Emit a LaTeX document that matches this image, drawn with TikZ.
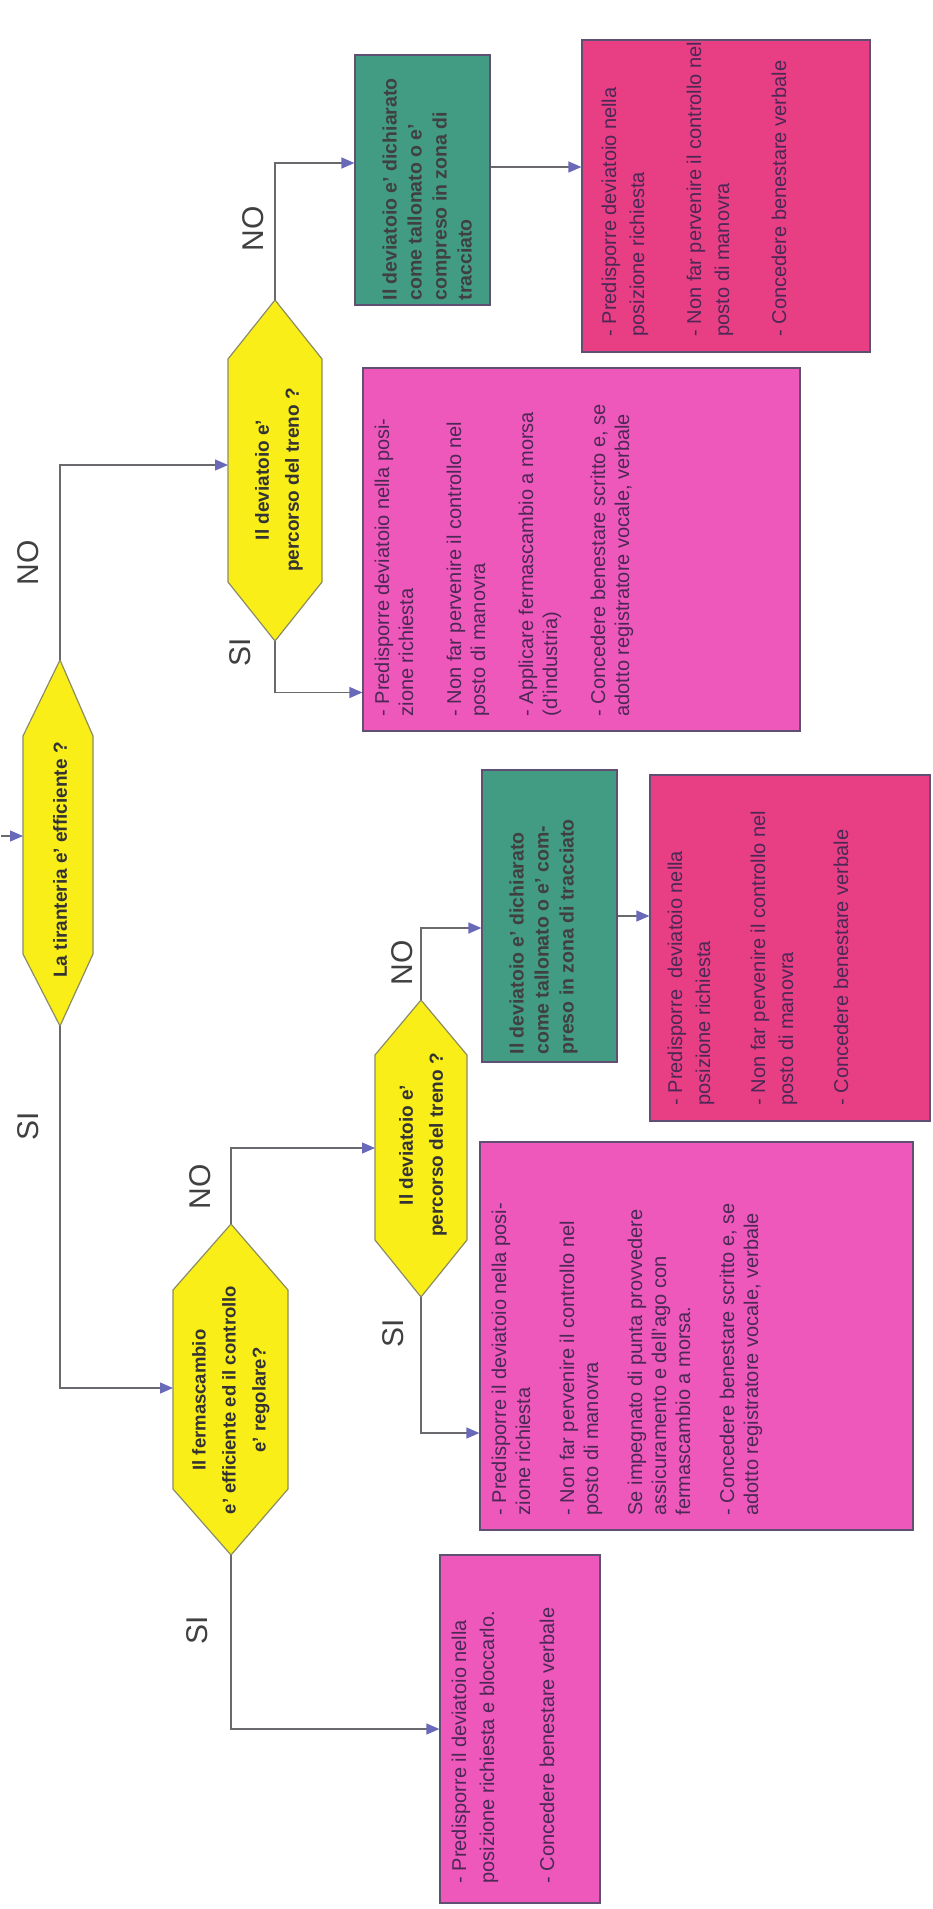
\documentclass[tikz,border=0pt]{standalone}
\usepackage{fontspec}
\setmainfont{Liberation Sans}
\usetikzlibrary{arrows.meta,fit,calc}
\definecolor{hexyellow}{RGB}{250,238,25}
\definecolor{hexborder}{RGB}{140,140,100}
\definecolor{pinkA}{RGB}{238,88,186}
\definecolor{pinkB}{RGB}{232,62,132}
\definecolor{tealbox}{RGB}{66,156,132}
\definecolor{boxborder}{RGB}{95,80,115}
\definecolor{boxtext}{RGB}{75,40,85}
\definecolor{linegray}{RGB}{105,105,110}
\definecolor{arrowblue}{RGB}{105,105,185}
\begin{document}
\begin{tikzpicture}[x=1pt,y=-1pt,
  conn/.style={draw=linegray, line width=1.2pt},
  arr/.style={conn, -{Triangle[length=13pt,width=11pt,fill=arrowblue,color=arrowblue]}},
  hexshape/.style={draw=hexborder, line width=1.2pt, fill=hexyellow, line join=miter},
  hext/.style={rotate=90, align=center, inner sep=0pt, text=black!80, font=\bfseries\fontsize{19}{30}\selectfont},
  boxA/.style={draw=boxborder, line width=1.2pt, fill=pinkA, inner sep=0pt},
  boxB/.style={draw=boxborder, line width=1.2pt, fill=pinkB, inner sep=0pt},
  boxT/.style={draw=boxborder, line width=1.2pt, fill=tealbox, inner sep=0pt},
  ptext/.style={rotate=90, anchor=north west, align=left, inner sep=0pt, text=boxtext, font=\fontsize{20}{28}\selectfont},
  ttext/.style={rotate=90, anchor=north west, align=left, inner sep=0pt, text=black!75, font=\bfseries\fontsize{19.5}{25}\selectfont},
  lbl/.style={rotate=90, inner sep=0pt, text=black!75, font=\fontsize{30}{34}\selectfont}]

\useasboundingbox (0,0) rectangle (933,1909);
\fill[white] (0,0) rectangle (933,1909);

% ---------- decision hexagons ----------
% D0
\coordinate (d0t) at (60,660);
\coordinate (d0b) at (60,1026);
\coordinate (d0w) at (23,836);
\draw[hexshape] (d0t) -- (93,736) -- (93,954) -- (d0b) -- (23,954) -- (23,736) -- cycle;
\node[hext] (d0) at (60,860) {La tiranteria e' efficiente ?};
% D1
\coordinate (d1t) at (275,300);
\coordinate (d1b) at (275,641);
\coordinate (d1w) at (228,465);
\draw[hexshape] (d1t) -- (322,359) -- (322,582) -- (d1b) -- (228,582) -- (228,359) -- cycle;
\node[hext] (d1) at (279,480) {Il deviatoio e'\\percorso del treno ?};
% D3
\coordinate (d3t) at (231,1224);
\coordinate (d3b) at (231,1555);
\coordinate (d3w) at (173,1388);
\draw[hexshape] (d3t) -- (288,1290) -- (288,1489) -- (d3b) -- (173,1489) -- (173,1290) -- cycle;
\node[hext, font=\bfseries\fontsize{18.5}{30}\selectfont] (d3) at (231,1400) {Il fermascambio\\e' efficiente ed il controllo\\e' regolare?};
% D2
\coordinate (d2t) at (421,1000);
\coordinate (d2b) at (421,1297);
\coordinate (d2w) at (375,1148);
\draw[hexshape] (d2t) -- (467,1055) -- (467,1240) -- (d2b) -- (375,1240) -- (375,1055) -- cycle;
\node[hext] (d2) at (423,1145) {Il deviatoio e'\\percorso del treno ?};

% ---------- boxes ----------
\coordinate (t1a) at (355,55);  \coordinate (t1b) at (490,305);
\node[boxT, fit=(t1a)(t1b)] (t1) {};
\coordinate (p2a) at (582,40);  \coordinate (p2b) at (870,352);
\node[boxB, fit=(p2a)(p2b)] (p2) {};
\coordinate (p1a) at (363,368); \coordinate (p1b) at (800,731);
\node[boxA, fit=(p1a)(p1b)] (p1) {};
\coordinate (t2a) at (482,770); \coordinate (t2b) at (617,1062);
\node[boxT, fit=(t2a)(t2b)] (t2) {};
\coordinate (p4a) at (650,775); \coordinate (p4b) at (930,1121);
\node[boxB, fit=(p4a)(p4b)] (p4) {};
\coordinate (p3a) at (480,1142); \coordinate (p3b) at (913,1530);
\node[boxA, fit=(p3a)(p3b)] (p3) {};
\coordinate (p5a) at (440,1555); \coordinate (p5b) at (600,1903);
\node[boxA, fit=(p5a)(p5b)] (p5) {};

% ---------- box texts ----------
\node[ttext] (t1txt) at ([shift={(28,-5)}]t1.south west)
  {Il deviatoio e' dichiarato\\come tallonato o e'\\compreso in zona di\\tracciato};
\node[ptext] (p2txt) at ([shift={(20,-16)}]p2.south west)
  {- Predisporre deviatoio nella\\posizione richiesta\\[29pt]- Non far pervenire il controllo nel\\posto di manovra\\[29pt]- Concedere benestare verbale};
\node[ptext, font=\fontsize{20}{24}\selectfont] (p1txt) at ([shift={(12,-15)}]p1.south west)
  {- Predisporre deviatoio nella posi-\\zione richiesta\\[24pt]- Non far pervenire il controllo nel\\posto di manovra\\[24pt]- Applicare fermascambio a morsa\\(d'industria)\\[24pt]- Concedere benestare scritto e, se\\adotto registratore vocale, verbale};
\node[ttext] (t2txt) at ([shift={(28,-8)}]t2.south west)
  {Il deviatoio e' dichiarato\\come tallonato o e' com-\\preso in zona di tracciato};
\node[ptext] (p4txt) at ([shift={(18,-16)}]p4.south west)
  {- Predisporre\ \ deviatoio nella\\posizione richiesta\\[27pt]- Non far pervenire il controllo nel\\posto di manovra\\[27pt]- Concedere benestare verbale};
\node[ptext, font=\fontsize{20}{24}\selectfont] (p3txt) at ([shift={(12,-15)}]p3.south west)
  {- Predisporre il deviatoio nella posi-\\zione richiesta\\[20pt]- Non far pervenire il controllo nel\\posto di manovra\\[20pt]Se impegnato di punta provvedere\\assicuramento e dell'ago con\\fermascambio a morsa.\\[20pt]- Concedere benestare scritto e, se\\adotto registratore vocale, verbale};
\node[ptext] (p5txt) at ([shift={(12,-20)}]p5.south west)
  {- Predisporre il deviatoio nella\\posizione richiesta e bloccarlo.\\[32pt]- Concedere benestare verbale};

% ---------- connectors ----------
\coordinate (start) at (1,836);
\draw[arr] (start) -- (d0w);
\draw[arr] (d0t) |- (d1w);
\draw[arr] (d0b) |- (d3w);
\draw[arr] (d1t) |- ([yshift=17pt]t1.west);
\draw[arr] ([yshift=13pt]t1.east) -- ([yshift=13pt]t1.east -| p2.west);
\draw[arr] (d1b) |- ([yshift=-143pt]p1.west);
\draw[arr] (d3t) |- (d2w);
\draw[arr] (d3b) |- (p5.west);
\draw[arr] (d2t) |- ([yshift=-12pt]t2.west);
\draw[arr] (d2b) |- ([yshift=-97pt]p3.west);
\draw[arr] (t2.east) -- (t2.east -| p4.west);

% ---------- labels ----------
\node[lbl] (l0no) at (28,563) {NO};
\node[lbl] (l0si) at (28,1126) {SI};
\node[lbl] (l1no) at (253,229) {NO};
\node[lbl] (l1si) at (240,652) {SI};
\node[lbl] (l3no) at (200,1187) {NO};
\node[lbl] (l3si) at (197,1630) {SI};
\node[lbl] (l2no) at (402,963) {NO};
\node[lbl] (l2si) at (393,1333) {SI};
\end{tikzpicture}
\end{document}
